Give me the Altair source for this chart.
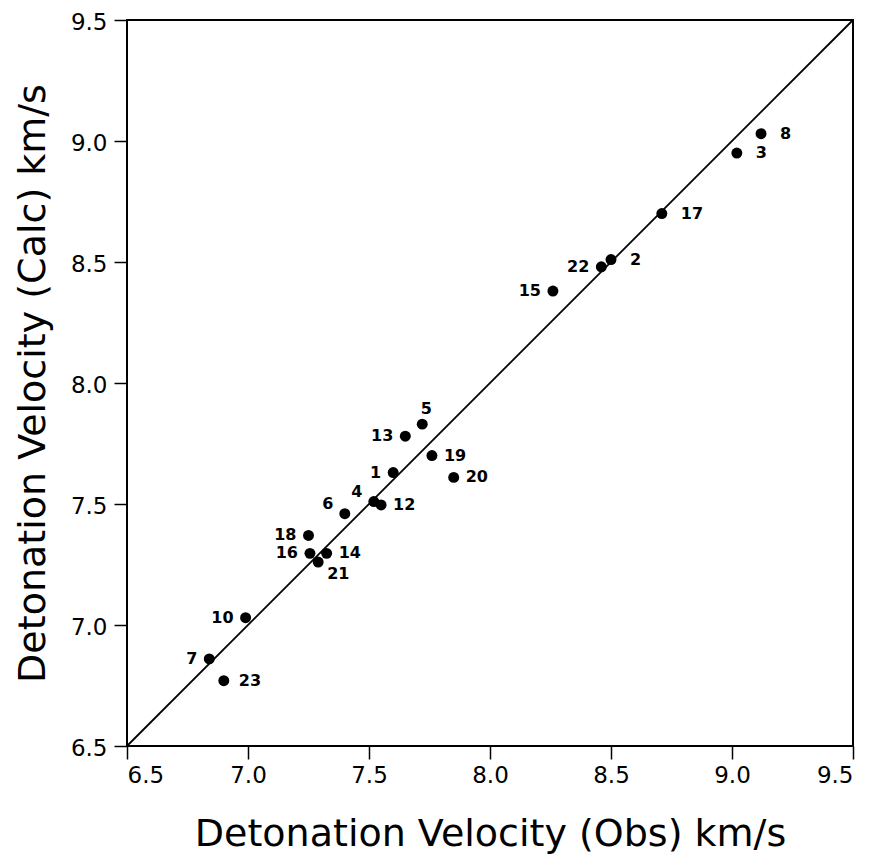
import altair as alt
import pandas as pd

# Data
ids = [1, 2, 3, 4, 5, 6, 7, 8, 10, 12, 13, 14, 15, 16, 17, 18, 19, 20, 21, 22, 23]
obs = [7.60, 8.50, 9.02, 7.52, 7.72, 7.40, 6.84, 9.12, 6.99, 7.55, 7.65, 7.325,
       8.26, 7.256, 8.71, 7.25, 7.76, 7.85, 7.29, 8.46, 6.90]
calc = [7.63, 8.51, 8.95, 7.51, 7.83, 7.46, 6.86, 9.03, 7.03, 7.496, 7.78, 7.296,
        8.38, 7.296, 8.70, 7.37, 7.70, 7.61, 7.26, 8.48, 6.77]
line_ends = [6.5, 9.5]
ticks = [6.5, 7.0, 7.5, 8.0, 8.5, 9.0, 9.5]

# label placement groups (style)
placement = {
    1: "L", 2: "R2", 3: "R2", 4: "UL", 5: "U", 6: "UL", 7: "L", 8: "R2",
    10: "L", 12: "R", 13: "L", 14: "R", 15: "L", 16: "L", 17: "R2", 18: "L",
    19: "R", 20: "R", 21: "DR", 22: "L", 23: "R3",
}
styles = {
    "R": dict(dx=12, dy=0, align="left"),
    "R2": dict(dx=19, dy=0, align="left"),
    "R3": dict(dx=15, dy=0, align="left"),
    "L": dict(dx=-12, dy=0, align="right"),
    "U": dict(dx=4, dy=-15, align="center"),
    "UL": dict(dx=-17, dy=-10, align="center"),
    "DR": dict(dx=9, dy=12, align="left"),
}

df = pd.DataFrame({"id": ids, "obs": obs, "calc": calc})
df["label"] = df["id"].astype(str)
df["grp"] = df["id"].map(placement)
line_df = pd.DataFrame({"obs": line_ends, "calc": line_ends})

FONT = "DejaVu Sans"

xscale = alt.Scale(domain=[6.5, 9.5], nice=False, zero=False)
yscale = alt.Scale(domain=[6.5, 9.5], nice=False, zero=False)

xaxis = alt.Axis(values=ticks, format=".1f", title="Detonation Velocity (Obs) km/s",
                 grid=False, domain=False, tickSize=13, tickWidth=1.5, tickColor="black",
                 labelFontSize=23, labelFont=FONT, labelColor="black", labelPadding=5,
                 titleFontSize=38, titleFont=FONT, titleFontWeight="normal",
                 titleColor="black", titlePadding=28)
yaxis = alt.Axis(values=ticks, format=".1f", title="Detonation Velocity (Calc) km/s",
                 grid=False, domain=False, tickSize=13, tickWidth=1.5, tickColor="black",
                 labelFontSize=23, labelFont=FONT, labelColor="black", labelPadding=7,
                 labelOffset=2,
                 titleFontSize=38, titleFont=FONT, titleFontWeight="normal",
                 titleColor="black", titlePadding=18)

line = alt.Chart(line_df).mark_line(color="black", strokeWidth=1.8).encode(
    x=alt.X("obs:Q", scale=xscale, axis=xaxis),
    y=alt.Y("calc:Q", scale=yscale, axis=yaxis),
)

points = alt.Chart(df).mark_circle(color="black", opacity=1, size=120).encode(
    x=alt.X("obs:Q", scale=xscale),
    y=alt.Y("calc:Q", scale=yscale),
)

layers = [line, points]
for g, st in styles.items():
    layers.append(
        alt.Chart(df).transform_filter(alt.datum.grp == g).mark_text(
            font=FONT, fontSize=16, fontWeight="bold", color="black",
            baseline="middle", **st
        ).encode(
            x=alt.X("obs:Q", scale=xscale),
            y=alt.Y("calc:Q", scale=yscale),
            text="label:N",
        )
    )

chart = alt.layer(*layers).properties(
    width=726, height=726,
    autosize=alt.AutoSizeParams(type="none"),
    padding={"left": 119, "top": 12, "right": 10, "bottom": 110},
    background="white",
).configure_view(stroke="black", strokeWidth=2)

chart.save("out.html", embed_options={"renderer": "svg", "actions": False})
